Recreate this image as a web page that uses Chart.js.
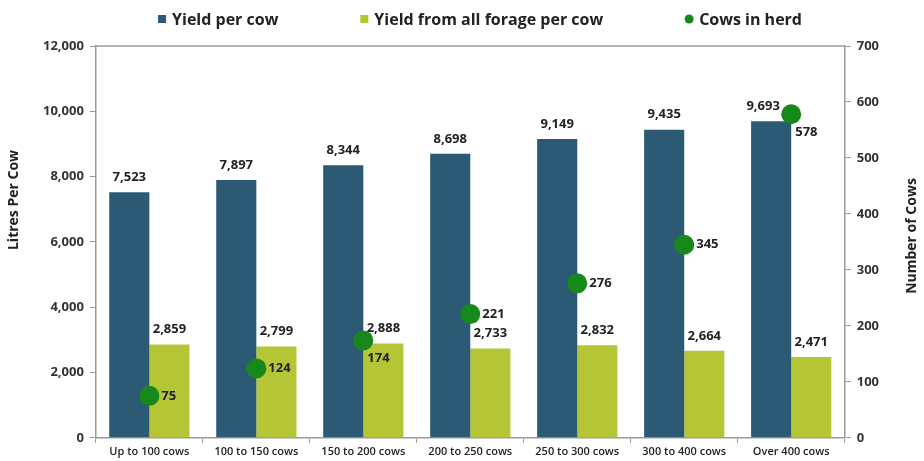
<!DOCTYPE html>
<html>
<head>
<meta charset="utf-8">
<title>Milk yield by herd size</title>
<script src="https://cdn.jsdelivr.net/npm/chart.js@4.4.1/dist/chart.umd.min.js"></script>
<style>
  html, body { margin: 0; padding: 0; background: #fff; }
  #wrap { width: 924px; height: 461px; position: relative; }
</style>
</head>
<body>
<div id="wrap"><canvas id="herdChart"></canvas></div>
<script>
// herd size bands
const herdSizes = [
  "Up to 100 cows",
  "100 to 150 cows",
  "150 to 200 cows",
  "200 to 250 cows",
  "250 to 300 cows",
  "300 to 400 cows",
  "Over 400 cows",
];
// litres per cow
const yieldPerCow = [7523, 7897, 8344, 8698, 9149, 9435, 9693];
const forageYield = [2859, 2799, 2888, 2733, 2832, 2664, 2471];
// average number of cows
const cowsInHerd = [75, 124, 174, 221, 276, 345, 578];

const litresMax = 12000;
const litresStep = 2000;
const cowsMax = 700;
const cowsStep = 100;

const BLUE = "#2c5a74";
const LIME = "#b4c536";
const DOT = "#17891a";
const AXIS = "#9a9a9a";
const TEXT = "#222";
const FONT = "'Open Sans', 'DejaVu Sans', sans-serif";

function fmt(v) {
  return v.toLocaleString("en-US");
}

// value labels above bars and next to the dots
const valueLabels = {
  id: "valueLabels",
  afterDatasetsDraw(chart, args, opts) {
    const ctx = chart.ctx;
    ctx.save();
    ctx.font = "bold 13px " + FONT;
    ctx.fillStyle = TEXT;
    chart.data.datasets.forEach((ds, di) => {
      const meta = chart.getDatasetMeta(di);
      meta.data.forEach((el, i) => {
        const txt = fmt(ds.data[i]);
        if (ds.type === "line") {
          const where = opts.dotPlacement[i];
          ctx.textAlign = "left";
          ctx.textBaseline = "middle";
          if (where === "below") {
            ctx.fillText(txt, el.x + 4, el.y + 18);
          } else {
            ctx.fillText(txt, el.x + 12, el.y);
          }
        } else {
          const dx = (opts.barShift[di] && opts.barShift[di][i]) || 0;
          ctx.textAlign = "center";
          ctx.textBaseline = "middle";
          ctx.fillText(txt, el.x + dx, el.y - 15);
        }
      });
    });
    ctx.restore();
  },
};

// top edge of the plot box, both axis titles and the legend row
const frame = {
  id: "frame",
  afterDraw(chart) {
    const ctx = chart.ctx;
    const a = chart.chartArea;
    ctx.save();
    ctx.strokeStyle = AXIS;
    ctx.lineWidth = 1.5;
    ctx.beginPath();
    ctx.moveTo(a.left, a.top);
    ctx.lineTo(a.right, a.top);
    ctx.stroke();

    ctx.fillStyle = TEXT;
    ctx.font = "bold 14px " + FONT;
    ctx.textAlign = "center";
    ctx.textBaseline = "middle";
    ctx.save();
    ctx.translate(14, 200);
    ctx.rotate(-Math.PI / 2);
    ctx.fillText("Litres Per Cow", 0, 0);
    ctx.restore();
    ctx.save();
    ctx.translate(912, 236);
    ctx.rotate(-Math.PI / 2);
    ctx.fillText("Number of Cows", 0, 0);
    ctx.restore();

    // legend, centred as a group
    ctx.font = "bold 16px " + FONT;
    ctx.textAlign = "left";
    const gap = 82;
    const items = chart.data.datasets.map((ds) => ({
      text: ds.label,
      color: ds.type === "line" ? ds.pointBackgroundColor : ds.backgroundColor,
      round: ds.type === "line",
      w: 14 + ctx.measureText(ds.label).width,
    }));
    const total = items.reduce((s, it) => s + it.w, 0) + gap * (items.length - 1);
    let x = 480 - total / 2;
    const y = 19;
    items.forEach((it) => {
      ctx.fillStyle = it.color;
      if (it.round) {
        ctx.beginPath();
        ctx.arc(x + 4, y, 4.5, 0, Math.PI * 2);
        ctx.fill();
      } else {
        ctx.fillRect(x, y - 4, 8, 8);
      }
      ctx.fillStyle = TEXT;
      ctx.fillText(it.text, x + 14, y + 1);
      x += it.w + gap;
    });
    ctx.restore();
  },
};

const ctx = document.getElementById("herdChart").getContext("2d");
const herdChart = new Chart(ctx, {
  type: "bar",
  data: {
    labels: herdSizes,
    datasets: [
      {
        label: "Yield per cow",
        data: yieldPerCow,
        backgroundColor: BLUE,
        yAxisID: "y",
        order: 1,
      },
      {
        label: "Yield from all forage per cow",
        data: forageYield,
        backgroundColor: LIME,
        yAxisID: "y",
        order: 1,
      },
      {
        type: "line",
        label: "Cows in herd",
        data: cowsInHerd,
        yAxisID: "y1",
        showLine: false,
        pointRadius: 10,
        pointHoverRadius: 10,
        pointBackgroundColor: DOT,
        pointBorderWidth: 0,
        order: 0,
      },
    ],
  },
  options: {
    responsive: true,
    maintainAspectRatio: false,
    animation: false,
    datasets: {
      bar: { categoryPercentage: 0.75, barPercentage: 1.0 },
    },
    layout: { padding: { top: 46, left: 37, right: 39, bottom: 1 } },
    plugins: {
      legend: { display: false },
      tooltip: { enabled: false },
      valueLabels: {
        dotPlacement: ["right", "right", "below", "right", "right", "right", "below"],
        barShift: { 0: [0, 0, 0, 0, 0, 0, -8] },
      },
    },
    scales: {
      x: {
        grid: {
          display: true,
          drawOnChartArea: false,
          drawTicks: true,
          tickLength: 5,
          color: AXIS,
        },
        border: { color: AXIS, width: 1.5 },
        ticks: {
          color: TEXT,
          font: { family: FONT, size: 11, weight: "600" },
          padding: 2,
          maxRotation: 0,
        },
      },
      y: {
        position: "left",
        min: 0,
        max: litresMax,
        grid: { drawOnChartArea: false, drawTicks: true, tickLength: 6, color: AXIS },
        border: { color: AXIS, width: 1.5 },
        ticks: {
          stepSize: litresStep,
          color: "#333",
          font: { family: FONT, size: 13, weight: "bold" },
          padding: 6,
          callback: (v) => fmt(v),
        },
      },
      y1: {
        position: "right",
        min: 0,
        max: cowsMax,
        grid: { drawOnChartArea: false, drawTicks: true, tickLength: 6, color: AXIS },
        border: { color: AXIS, width: 1.5 },
        ticks: {
          stepSize: cowsStep,
          color: "#333",
          font: { family: FONT, size: 13, weight: "bold" },
          padding: 6,
        },
      },
    },
  },
  plugins: [valueLabels, frame],
});
</script>
</body>
</html>
